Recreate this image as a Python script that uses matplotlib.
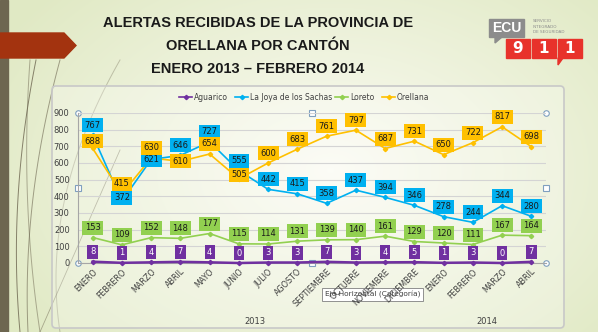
import matplotlib.pyplot as plt
import numpy as np
from matplotlib.patches import Rectangle, FancyBboxPatch, Polygon

# meses (ene 2013 - abr 2014)
meses = ['ENERO', 'FEBRERO', 'MARZO', 'ABRIL', 'MAYO', 'JUNIO', 'JULIO', 'AGOSTO',
         'SEPTIEMBRE', 'OCTUBRE', 'NOVIEMBRE', 'DICIEMBRE',
         'ENERO', 'FEBRERO', 'MARZO', 'ABRIL']
anios = ['2013', '2014']

aguarico = [8, 1, 4, 7, 4, 0, 3, 3, 7, 3, 4, 5, 1, 3, 0, 7]
joya = [767, 372, 621, 646, 727, 555, 442, 415, 358, 437, 394, 346, 278, 244, 344, 280]
loreto = [153, 109, 152, 148, 177, 115, 114, 131, 139, 140, 161, 129, 120, 111, 167, 164]
orellana = [688, 415, 630, 610, 654, 505, 600, 683, 761, 797, 687, 731, 650, 722, 817, 698]

W, H = 598, 332
fig = plt.figure(figsize=(W / 100, H / 100), dpi=100)


def fx(px):
    return px / W


def fy(py):
    return 1 - py / H


# fondo de la diapositiva
bg = fig.add_axes([0, 0, 1, 1])
bg.set_xlim(0, W)
bg.set_ylim(H, 0)
bg.axis('off')
yy, xx = np.mgrid[0:H, 0:W]
d = np.sqrt(((xx - 330) / 380.0) ** 2 + ((yy - 170) / 260.0) ** 2)
d = np.clip(d, 0, 1)
c0 = np.array([0.985, 0.985, 0.955])
c1 = np.array([0.88, 0.915, 0.77])
img = c0[None, None, :] * (1 - d[..., None]) + c1[None, None, :] * d[..., None]
bg.imshow(img, extent=[0, W, H, 0], aspect='auto', zorder=0)

# barra lateral y flecha roja
bg.add_patch(Rectangle((0, 0), 8, H, color='#6d6650', zorder=1))
bg.add_patch(Polygon([(0, 33), (64, 33), (76, 45.5), (64, 58), (0, 58)],
                     closed=True, color='#a3330f', zorder=2))

# lineas decorativas
t = np.linspace(0, 1, 100)
for x0, x1, xc, a in [(20, 36, 8, 0.8), (28, 60, 22, 0.6), (40, 30, 20, 0.5), (60, 120, 40, 0.35)]:
    px = (1 - t) ** 2 * x0 + 2 * (1 - t) * t * xc + t ** 2 * x1
    py = (1 - t) ** 2 * 332 + 2 * (1 - t) * t * 200 + t ** 2 * 60
    bg.plot(px, py, color='#6d6650', lw=0.7, alpha=a, zorder=1)
bg.plot([40, 120], [332, 150], color='#6d6650', lw=0.6, alpha=0.5, zorder=1)

# titulo
titulo = ['ALERTAS RECIBIDAS DE LA PROVINCIA DE', 'ORELLANA POR CANTÓN', 'ENERO 2013 – FEBRERO 2014']
for i, linea in enumerate(titulo):
    bg.text(258, 23 + i * 23, linea, ha='center', va='center', fontsize=10.5,
            fontweight='bold', color='#1a1a1a',
            family=['Liberation Sans', 'DejaVu Sans'], zorder=3)

# logo ECU 911
bg.add_patch(Rectangle((489, 19), 35, 18, color='#8c8c8c', zorder=3))
bg.add_patch(Polygon([(495, 37), (502, 37), (495, 43)], color='#8c8c8c', zorder=3))
bg.text(506.5, 28, 'ECU', ha='center', va='center', color='white', fontsize=10,
        fontweight='bold', family=['Liberation Sans', 'DejaVu Sans'], zorder=4)
for k, ch in enumerate('911'):
    x0 = 506 + k * 26
    bg.add_patch(Rectangle((x0, 39), 24, 19, color='#e8322b', zorder=3))
    bg.text(x0 + 12, 48.5, ch, ha='center', va='center', color='white', fontsize=11,
            fontweight='bold', zorder=4)
bg.add_patch(Polygon([(558, 58), (563, 58), (558, 65)], color='#e8322b', zorder=3))
for k, s in enumerate(['SERVICIO', 'INTEGRADO', 'DE SEGURIDAD']):
    bg.text(533, 21 + k * 5.5, s, ha='left', va='center', color='#8c8c8c', fontsize=3, zorder=4)

# marco del grafico
bg.add_patch(FancyBboxPatch((52, 86), 512, 242, boxstyle='round,pad=0,rounding_size=4',
                            fc=(1, 1, 1, 0.25), ec='#c8c8c8', lw=1.2, zorder=2))

# area de trazado
ax = fig.add_axes([fx(78), fy(263), fx(546) - fx(78), fy(113) - fy(263)])
ax.patch.set_alpha(0)
ax.set_xlim(-0.5, len(meses) - 0.5)
ax.set_ylim(0, 900)
ax.set_yticks(np.arange(0, 901, 100))
ax.yaxis.grid(True, color='#d4d4d4', lw=0.8)
ax.set_axisbelow(True)
for s in ['top', 'right']:
    ax.spines[s].set_visible(False)
ax.spines['left'].set_color('#a6a6a6')
ax.spines['bottom'].set_color('#a6a6a6')
ax.tick_params(axis='y', length=0, labelsize=6, labelcolor='#404040', pad=6)
ax.tick_params(axis='x', length=0, labelsize=5.8, labelcolor='#404040', pad=3)
x = np.arange(len(meses))
ax.set_xticks(x)
ax.set_xticklabels(meses, rotation=45, ha='right', va='top', rotation_mode='anchor')

series = [
    ('Aguarico', aguarico, '#7030a0', 'white', 1.8),
    ('La Joya de los Sachas', joya, '#00b0f0', '#1a1a1a', 1.2),
    ('Loreto', loreto, '#92d050', '#1a1a1a', 1.2),
    ('Orellana', orellana, '#ffc000', '#1a1a1a', 1.2),
]

# etiquetas que se bajan para no chocar con la otra serie
bajar = {('La Joya de los Sachas', 1): 3, ('La Joya de los Sachas', 2): 0,
         ('Orellana', 3): 0, ('Orellana', 5): 4, ('Orellana', 0): 7}

for nombre, vals, col, tcol, lw in series:
    ax.plot(x, vals, color=col, lw=lw, marker='D', ms=2.2, zorder=3, clip_on=False)
    for i, v in enumerate(vals):
        off = bajar.get((nombre, i), 10)
        ax.annotate(str(v), (i, v), xytext=(0, off), textcoords='offset pixels',
                    ha='center', va='center', fontsize=6, color=tcol, zorder=5,
                    bbox=dict(boxstyle='square,pad=0.3', fc=col, ec='none'))

# manijas de seleccion
for (px, py, m) in [(78, 113, 'o'), (78, 263, 'o'), (546, 113, 'o'), (546, 263, 'o'),
                    (78, 188, 's'), (312, 113, 's'), (312, 263, 's'), (546, 188, 's')]:
    bg.plot(px, py, marker=m, ms=4, mfc='white', mec='#7f9fbf', mew=0.8, zorder=6)

# leyenda
leg_x = [179, 235, 335, 382]
for (nombre, vals, col, tcol, lw), lx in zip(series, leg_x):
    bg.plot([lx, lx + 13], [97, 97], color=col, lw=1.2, zorder=4)
    bg.plot(lx + 6.5, 97, marker='D', ms=2.2, color=col, zorder=4)
    bg.text(lx + 15, 97, nombre, ha='left', va='center', fontsize=5.5, color='#404040', zorder=4)

# etiquetas de anio
bg.text(255, 321, anios[0], ha='center', va='center', fontsize=6, color='#404040', zorder=4)
bg.text(487, 321, anios[1], ha='center', va='center', fontsize=6, color='#404040', zorder=4)

# info emergente del eje
bg.text(325, 294.5, 'Eje Horizontal (Categoría)', ha='left', va='center', fontsize=5.3,
        color='#404040', zorder=7,
        bbox=dict(boxstyle='square,pad=0.35', fc='white', ec='#808080', lw=0.6))

fig.savefig('out.png', dpi=100)
